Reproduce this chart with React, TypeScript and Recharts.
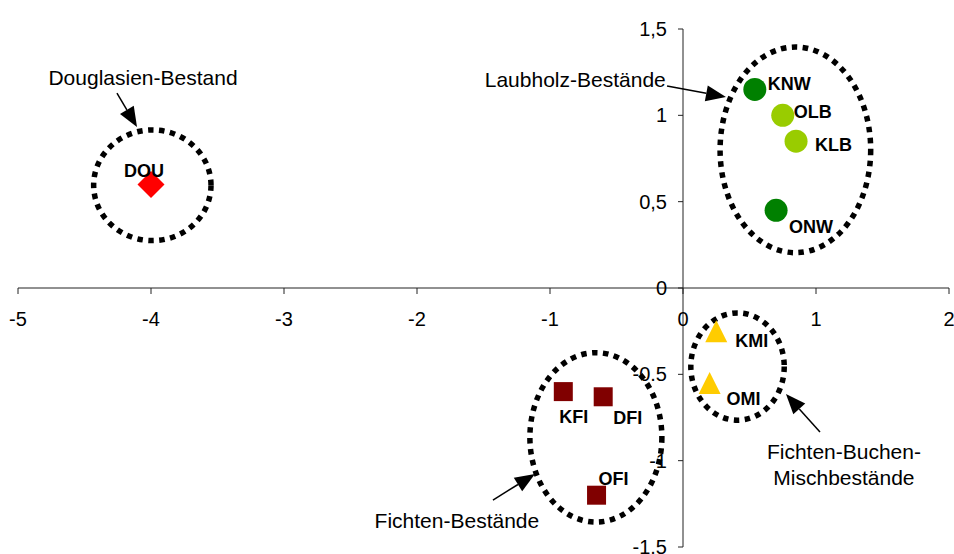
import {
  ScatterChart,
  Scatter,
  XAxis,
  YAxis,
  ReferenceLine,
  ReferenceDot,
  ReferenceArea
} from "recharts";

const X_TICKS = [-5, -4, -3, -2, -1, 0, 1, 2];
const Y_TICKS = [1.5, 1, 0.5, 0, -0.5, -1, -1.5];
const Y_TICK_LABELS = ["1,5", "1", "0,5", "0", "-0.5", "-1", "-1.5"];

const DOUGLASIE = [{ name: "DOU", x: -4.0, y: 0.6 }];
const LAUB_DARK = [
  { name: "KNW", x: 0.54, y: 1.15 },
  { name: "ONW", x: 0.7, y: 0.45 }
];
const LAUB_LIGHT = [
  { name: "OLB", x: 0.75, y: 1.0 },
  { name: "KLB", x: 0.85, y: 0.85 }
];
const MISCH = [
  { name: "KMI", x: 0.25, y: -0.25 },
  { name: "OMI", x: 0.2, y: -0.55 }
];
const FICHTE = [
  { name: "KFI", x: -0.9, y: -0.6 },
  { name: "DFI", x: -0.6, y: -0.63 },
  { name: "OFI", x: -0.65, y: -1.2 }
];

// group outlines, in data units (bounding box of each dotted ellipse)
const GROUPS = [
  { x1: -4.45, x2: -3.53, y1: 0.26, y2: 0.93 },
  { x1: 0.26, x2: 1.43, y1: 0.19, y2: 1.41 },
  { x1: 0.04, x2: 0.78, y1: -0.78, y2: -0.13 },
  { x1: -1.17, x2: -0.14, y1: -1.37, y2: -0.36 }
];

const ARROWS = [
  { from: { x: -4.256, y: 1.129 }, to: { x: -4.105, y: 0.932 } },
  { from: { x: -0.12, y: 1.17 }, to: { x: 0.323, y: 1.106 } },
  { from: { x: 1.03, y: -0.834 }, to: { x: 0.774, y: -0.614 } },
  { from: { x: -1.429, y: -1.228 }, to: { x: -1.113, y: -1.077 } }
];

const NOTES = [
  { x: -4.06, y: 1.176, lines: ["Douglasien-Bestand"] },
  { x: -0.81, y: 1.164, lines: ["Laubholz-Bestände"] },
  { x: 1.21, y: -0.99, lines: ["Fichten-Buchen-", "Mischbestände"] },
  { x: -1.7, y: -1.39, lines: ["Fichten-Bestände"] }
];

// label offset from marker centre: dx to text start, dy to baseline
const LABEL_POS: Record<string, [number, number]> = {
  DOU: [-27, -7],
  KNW: [13, 1],
  OLB: [11, 3],
  KLB: [19, 10],
  ONW: [13, 23],
  KMI: [19, 16],
  OMI: [17, 22],
  KFI: [-4, 31],
  DFI: [10, 27],
  OFI: [2, -10]
};

const FONT = "'Liberation Sans', Arial, sans-serif";
const AXIS = "#222";

function PointLabel({ cx, cy, name }: any) {
  const [dx, dy] = LABEL_POS[name] || [10, 0];
  return (
    <text x={cx + dx} y={cy + dy} fontFamily={FONT} fontSize={18} fontWeight="bold" fill="#000">
      {name}
    </text>
  );
}

const marker = (kind: string, color: string) => (props: any) => {
  const { cx, cy, payload } = props;
  let mark;
  if (kind === "circle") mark = <circle cx={cx} cy={cy} r={11.5} fill={color} />;
  else if (kind === "square") mark = <rect x={cx - 9.5} y={cy - 9.5} width={19} height={19} fill={color} />;
  else if (kind === "diamond")
    mark = <polygon points={`${cx},${cy - 13.5} ${cx + 13.5},${cy} ${cx},${cy + 13.5} ${cx - 13.5},${cy}`} fill={color} />;
  else mark = <polygon points={`${cx},${cy - 11} ${cx + 11},${cy + 11} ${cx - 11},${cy + 11}`} fill={color} />;
  return (
    <g>
      {mark}
      <PointLabel cx={cx} cy={cy} name={payload.name} />
    </g>
  );
};

const EllipseShape = (p: any) => (
  <ellipse
    cx={p.x + p.width / 2}
    cy={p.y + p.height / 2}
    rx={Math.abs(p.width) / 2 - 2.5}
    ry={Math.abs(p.height) / 2 - 2.5}
    fill="none"
    stroke="#000"
    strokeWidth={5.5}
    strokeDasharray="5.5 5.5"
  />
);

const ArrowShape = (p: any) => {
  const { x1, y1, x2, y2 } = p;
  const ang = Math.atan2(y2 - y1, x2 - x1);
  const len = 20;
  const w = 8;
  const bx = x2 - len * Math.cos(ang);
  const by = y2 - len * Math.sin(ang);
  const nx = -Math.sin(ang) * w;
  const ny = Math.cos(ang) * w;
  return (
    <g>
      <line x1={x1} y1={y1} x2={bx} y2={by} stroke="#000" strokeWidth={1.5} />
      <polygon points={`${x2},${y2} ${bx + nx},${by + ny} ${bx - nx},${by - ny}`} fill="#000" />
    </g>
  );
};

const noteShape = (lines: string[]) => (p: any) => (
  <text x={p.cx} y={p.cy} textAnchor="middle" fontFamily={FONT} fontSize={21} fill="#000">
    {lines.map((l, i) => (
      <tspan key={i} x={p.cx} dy={i === 0 ? 0 : 26}>
        {l}
      </tspan>
    ))}
  </text>
);

const XTick = (label: string) => (p: any) => (
  <g>
    <line x1={p.cx} y1={p.cy} x2={p.cx} y2={p.cy + 6} stroke={AXIS} strokeWidth={1} />
    <text x={p.cx} y={p.cy + 38} textAnchor="middle" fontFamily={FONT} fontSize={20} fill="#000">
      {label}
    </text>
  </g>
);

const YTick = (label: string) => (p: any) => (
  <g>
    <line x1={p.cx - 5} y1={p.cy} x2={p.cx} y2={p.cy} stroke={AXIS} strokeWidth={1} />
    <text x={p.cx - 16} y={p.cy + 7} textAnchor="end" fontFamily={FONT} fontSize={20} fill="#000">
      {label}
    </text>
  </g>
);

export default function App() {
  return (
    <div style={{ position: "absolute", left: 0, top: 0, width: 954, height: 554, background: "#fff" }}>
      <ScatterChart width={954} height={554} margin={{ top: 29, right: 5, bottom: 7, left: 18 }}>
        <XAxis type="number" dataKey="x" domain={[-5, 2]} hide />
        <YAxis type="number" dataKey="y" domain={[-1.5, 1.5]} hide />
        <ReferenceLine y={0} stroke={AXIS} strokeWidth={1} />
        <ReferenceLine x={0} stroke={AXIS} strokeWidth={1} />
        {X_TICKS.map((v) => (
          <ReferenceDot key={"xt" + v} x={v} y={0} r={0} shape={XTick(String(v))} />
        ))}
        {Y_TICKS.map((v, i) => (
          <ReferenceDot key={"yt" + v} x={0} y={v} r={0} shape={YTick(Y_TICK_LABELS[i])} />
        ))}
        {GROUPS.map((g, i) => (
          <ReferenceArea key={"g" + i} x1={g.x1} x2={g.x2} y1={g.y1} y2={g.y2} shape={EllipseShape} />
        ))}
        {ARROWS.map((a, i) => (
          <ReferenceLine key={"a" + i} segment={[a.from, a.to]} shape={ArrowShape} />
        ))}
        {NOTES.map((n, i) => (
          <ReferenceDot key={"n" + i} x={n.x} y={n.y} r={0} shape={noteShape(n.lines)} />
        ))}
        <Scatter data={DOUGLASIE} shape={marker("diamond", "#FF0000")} isAnimationActive={false} />
        <Scatter data={LAUB_DARK} shape={marker("circle", "#008000")} isAnimationActive={false} />
        <Scatter data={LAUB_LIGHT} shape={marker("circle", "#99CC00")} isAnimationActive={false} />
        <Scatter data={MISCH} shape={marker("triangle", "#FFCC00")} isAnimationActive={false} />
        <Scatter data={FICHTE} shape={marker("square", "#800000")} isAnimationActive={false} />
      </ScatterChart>
    </div>
  );
}
